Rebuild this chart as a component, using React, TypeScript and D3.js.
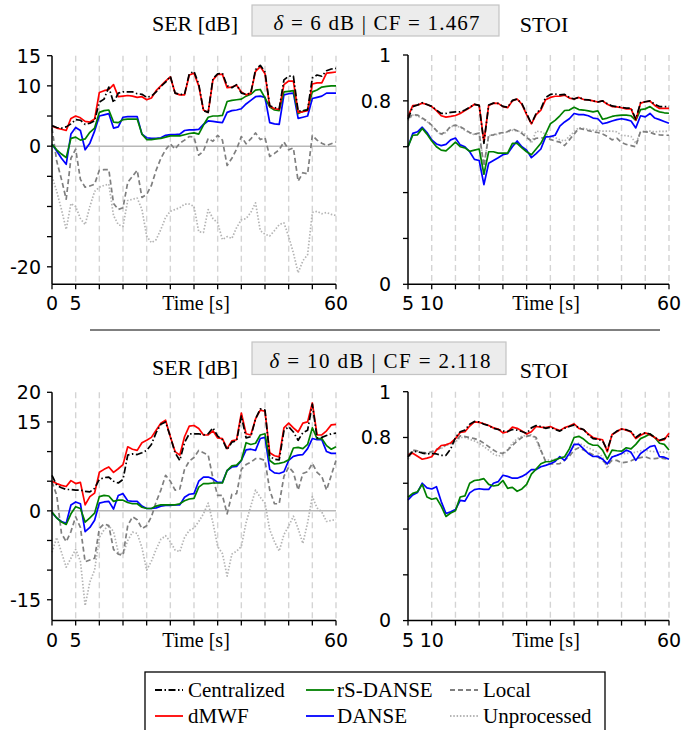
import React from "react";
import * as d3 from "d3";

// time grids (s)
const serTime = d3.range(0, 61);
const stoiTime = d3.range(5, 61);

// ---- delta = 6 dB, SER [dB] ----
const serTopCentralized = [3.4,3.1,3.0,3.2,3.7,4.4,4.3,3.6,3.8,4.2, 7.3,7.8,9.8,7.2,8.8,9.0,9.0,9.0,8.7,8.6, 8.1,8.3,9.0,9.9,10.6,11.6,8.8,8.6,8.6,12.0, 12.4,10.3,5.9,5.6,11.2,12.0,12.1,10.0,9.7,10.2, 8.8,8.6,8.8,12.7,13.4,12.3,6.7,6.4,6.2,11.0, 11.6,11.6,5.8,5.9,6.0,11.3,11.8,11.6,12.5,12.8, 12.9];
const serTopDmwf = [3.3,3.0,2.8,2.6,4.6,5.0,4.7,4.1,4.0,4.5, 8.9,9.2,9.4,10.2,8.2,8.3,8.4,8.3,8.1,8.2, 7.7,8.0,9.2,10.0,10.8,11.5,8.8,8.5,8.5,11.8, 12.1,10.0,6.0,5.6,11.0,11.9,11.9,9.7,9.8,10.1, 9.0,8.5,8.8,12.4,13.2,12.0,6.6,6.2,6.1,10.2, 10.8,10.8,5.6,5.7,5.9,10.3,10.5,10.5,12.1,12.2, 12.3];
const serTopRsDanse = [0.3,-0.6,-1.3,-1.9,1.3,1.5,1.0,1.2,2.3,3.0, 5.6,5.9,6.0,4.0,3.9,4.4,4.5,4.5,4.5,2.0, 1.1,1.1,1.2,1.3,1.5,1.7,1.7,1.7,1.9,2.1, 2.2,2.0,3.5,4.8,5.0,5.0,5.1,7.4,7.6,7.7, 7.8,8.3,8.6,9.3,9.4,8.0,6.5,6.0,5.9,9.0, 9.1,9.2,5.4,5.8,6.1,9.0,9.3,9.8,9.9,10.0, 10.0];
const serTopDanse = [0.3,-0.8,-2.0,-3.0,2.0,3.1,2.6,-0.6,0.5,2.5, 5.0,5.2,5.4,3.0,3.2,4.8,4.9,4.9,4.9,2.0, 1.4,1.3,1.3,1.4,1.8,1.9,1.9,2.0,2.6,2.7, 2.7,2.8,3.6,4.2,4.1,4.0,3.9,5.6,5.9,6.0, 6.2,7.0,7.6,8.2,8.3,8.1,3.9,3.7,3.6,8.5, 8.7,8.8,4.6,4.8,5.0,7.9,8.1,8.3,8.8,8.8, 8.8];
const serTopLocal = [3.0,-2.5,-5.5,-8.8,-2.0,-0.5,-5.5,-6.8,-6.6,-6.3, -4.0,-3.9,-3.9,-9.5,-10.5,-10.2,-6.0,-5.0,-4.0,-8.5, -8.0,-6.5,-4.0,-2.0,-0.6,0.4,-0.5,0.5,1.0,1.6, 1.5,-1.5,-0.8,1.3,0.8,1.8,1.0,-3.2,-2.0,-0.5, 1.6,0.4,1.2,2.2,1.1,1.4,-1.7,-1.2,-0.6,0.7, -0.6,-0.3,-5.8,-4.4,-4.6,1.8,1.0,0.5,0.1,0.4, 0.7];
const serTopUnprocessed = [-5.0,-7.5,-10.5,-13.8,-9.5,-10.0,-12.0,-13.0,-10.0,-7.5, -6.8,-6.5,-6.3,-11.5,-13.0,-13.3,-9.0,-8.8,-8.6,-10.5, -14.9,-16.0,-15.5,-13.8,-11.8,-10.8,-10.5,-10.2,-9.6,-9.6, -10.0,-14.2,-14.3,-10.5,-12.0,-12.7,-15.5,-15.0,-15.3,-13.5, -12.2,-12.0,-11.0,-9.4,-14.0,-14.6,-14.9,-14.0,-13.0,-12.7, -15.0,-17.7,-21.0,-19.0,-18.0,-11.0,-10.8,-11.2,-11.0,-11.3, -11.5];

// ---- delta = 6 dB, STOI ----
const stoiTopCentralized = [0.720,0.775,0.782,0.792,0.784,0.776,0.760,0.745,0.745,0.750, 0.752,0.752,0.760,0.772,0.785,0.780,0.615,0.782,0.790,0.789, 0.776,0.772,0.802,0.808,0.788,0.745,0.700,0.745,0.765,0.815, 0.828,0.830,0.826,0.828,0.815,0.808,0.816,0.806,0.804,0.800, 0.795,0.800,0.788,0.778,0.775,0.772,0.768,0.768,0.720,0.792, 0.796,0.800,0.785,0.775,0.775,0.775];
const stoiTopDmwf = [0.731,0.779,0.781,0.790,0.784,0.775,0.757,0.735,0.729,0.732, 0.736,0.745,0.758,0.770,0.785,0.780,0.622,0.780,0.790,0.789, 0.775,0.770,0.800,0.808,0.785,0.740,0.700,0.740,0.760,0.805, 0.815,0.820,0.820,0.825,0.812,0.808,0.815,0.806,0.804,0.800, 0.795,0.800,0.785,0.775,0.774,0.770,0.765,0.765,0.716,0.790, 0.796,0.799,0.780,0.767,0.767,0.767];
const stoiTopRsDanse = [0.600,0.650,0.652,0.680,0.655,0.625,0.600,0.585,0.582,0.600, 0.620,0.600,0.595,0.580,0.585,0.590,0.480,0.578,0.578,0.572, 0.572,0.572,0.615,0.615,0.595,0.578,0.565,0.590,0.615,0.655, 0.700,0.715,0.735,0.758,0.760,0.772,0.762,0.760,0.756,0.752, 0.756,0.720,0.725,0.732,0.736,0.738,0.738,0.735,0.715,0.762, 0.765,0.775,0.760,0.752,0.748,0.746];
const stoiTopDanse = [0.600,0.658,0.665,0.685,0.662,0.630,0.612,0.605,0.610,0.630, 0.638,0.608,0.600,0.578,0.545,0.540,0.435,0.528,0.540,0.552, 0.565,0.570,0.600,0.625,0.600,0.585,0.552,0.570,0.590,0.643, 0.644,0.650,0.690,0.708,0.722,0.745,0.740,0.740,0.735,0.725, 0.722,0.700,0.705,0.712,0.718,0.722,0.718,0.712,0.682,0.735, 0.730,0.745,0.725,0.718,0.710,0.702];
const stoiTopLocal = [0.724,0.740,0.738,0.725,0.712,0.694,0.670,0.655,0.665,0.690, 0.694,0.688,0.675,0.662,0.655,0.660,0.515,0.650,0.652,0.658, 0.662,0.666,0.678,0.670,0.658,0.640,0.625,0.637,0.638,0.640, 0.632,0.625,0.620,0.605,0.630,0.655,0.680,0.676,0.670,0.665, 0.662,0.655,0.645,0.630,0.637,0.618,0.610,0.605,0.600,0.667, 0.665,0.663,0.655,0.652,0.650,0.650];
const stoiTopUnprocessed = [0.715,0.738,0.735,0.722,0.710,0.692,0.668,0.652,0.662,0.688, 0.690,0.685,0.672,0.660,0.652,0.658,0.520,0.648,0.650,0.655, 0.660,0.664,0.672,0.668,0.665,0.650,0.615,0.668,0.665,0.655, 0.645,0.640,0.630,0.625,0.645,0.665,0.683,0.680,0.675,0.672, 0.670,0.668,0.668,0.668,0.665,0.650,0.648,0.645,0.615,0.665, 0.667,0.668,0.665,0.667,0.667,0.668];

// ---- delta = 10 dB, SER [dB] ----
const serBottomCentralized = [6.0,4.3,3.9,3.6,3.6,3.5,3.5,3.3,3.2,3.8, 5.3,5.6,5.7,5.0,4.7,5.3,9.4,9.6,9.5,9.8, 10.2,11.2,13.2,14.6,15.0,12.5,9.8,8.5,11.5,13.0, 13.0,13.0,12.8,13.0,14.0,12.6,12.0,10.3,11.6,11.8, 16.0,12.3,12.5,15.5,17.2,17.0,9.2,8.7,8.6,13.5, 14.2,13.3,11.9,13.2,13.6,18.0,12.3,12.4,12.7,13.0, 13.1];
const serBottomDmwf = [5.0,4.6,4.3,4.1,5.1,4.6,4.8,1.0,2.4,3.0, 6.5,7.0,7.4,6.5,7.1,7.8,10.8,10.4,10.2,11.5, 11.9,12.4,13.6,14.8,15.3,12.5,10.0,9.4,12.5,14.3, 14.4,13.9,12.8,12.8,13.5,12.3,12.2,10.5,11.8,12.0, 16.5,13.0,12.8,15.5,17.0,16.8,9.8,9.3,9.1,14.0, 14.8,14.0,13.3,14.8,15.0,18.2,12.8,12.8,13.5,14.5, 14.6];
const serBottomRsDanse = [-0.2,-1.2,-1.9,-2.3,-0.5,0.7,0.4,-1.9,-1.2,-0.4, 2.4,2.6,2.5,1.6,1.8,1.8,1.4,1.2,1.2,0.6, 0.4,0.4,0.8,1.0,1.0,1.0,1.0,1.2,1.7,2.0, 2.1,4.0,4.6,4.6,4.7,4.7,4.7,6.8,7.6,7.7, 8.5,11.5,11.2,11.4,12.8,13.0,8.5,7.9,8.0,8.2, 8.6,10.6,10.7,10.5,11.2,14.0,12.2,12.2,11.0,10.4, 10.8];
const serBottomDanse = [-0.3,-1.2,-1.8,-2.1,1.0,1.5,1.2,-3.5,-2.8,-1.6, 1.3,1.5,1.6,0.3,2.6,2.9,1.7,1.6,1.6,0.8, 0.4,0.4,0.5,0.8,0.9,0.9,1.0,1.0,2.3,2.8, 2.9,5.0,5.7,5.7,5.4,4.8,4.8,6.8,7.4,7.5, 8.5,10.3,10.4,10.2,12.2,12.4,7.0,6.4,6.3,6.6, 8.5,9.2,9.4,9.5,10.5,12.2,12.0,12.0,10.0,9.7, 9.7];
const serBottomLocal = [4.9,2.6,-3.8,-5.2,-3.5,-1.0,-2.8,-8.6,-8.3,-8.0, -3.0,-2.2,-2.5,-6.5,-7.3,-7.5,-2.5,-1.0,-1.5,-3.0, -2.5,-1.0,1.5,3.5,6.0,5.0,3.5,3.7,7.0,8.4, 9.0,10.2,9.8,9.4,5.5,2.6,2.6,-0.5,2.8,2.9, 7.0,7.8,8.2,8.8,8.8,8.5,3.5,1.2,1.2,5.8, 7.4,6.5,3.5,6.3,6.6,8.0,6.5,5.8,3.5,6.0, 8.5];
const serBottomUnprocessed = [-7.0,-4.5,-7.0,-9.5,-8.0,-6.5,-8.5,-16.0,-12.0,-10.0, -4.5,-3.2,-2.5,-3.5,-7.0,-7.3,-5.0,-3.6,-3.8,-6.2, -10.0,-8.5,-6.5,-4.8,-4.2,-5.2,-6.6,-6.9,-4.5,-3.3, -2.9,-1.8,-0.5,1.3,-2.0,-6.0,-7.2,-11.0,-7.3,-6.8, -6.0,-2.0,0.8,3.5,2.3,1.3,-3.2,-5.2,-6.8,-4.0, -2.6,-0.9,-3.0,-5.5,-2.0,2.4,0.5,-0.2,-1.8,-1.6, -1.5];

// ---- delta = 10 dB, STOI ----
const stoiBottomCentralized = [0.715,0.740,0.738,0.732,0.728,0.730,0.728,0.722,0.722,0.750, 0.800,0.825,0.832,0.858,0.870,0.868,0.858,0.852,0.840,0.835, 0.828,0.826,0.835,0.832,0.826,0.818,0.842,0.852,0.848,0.840, 0.845,0.835,0.828,0.840,0.848,0.855,0.842,0.835,0.812,0.795, 0.792,0.785,0.745,0.812,0.828,0.836,0.834,0.826,0.800,0.815, 0.820,0.815,0.800,0.788,0.795,0.805];
const stoiBottomDmwf = [0.724,0.731,0.718,0.705,0.710,0.716,0.745,0.765,0.768,0.776, 0.795,0.822,0.825,0.850,0.868,0.866,0.860,0.852,0.842,0.837, 0.820,0.825,0.845,0.840,0.828,0.815,0.825,0.848,0.845,0.843, 0.848,0.838,0.830,0.843,0.850,0.860,0.840,0.834,0.815,0.800, 0.794,0.790,0.738,0.813,0.825,0.838,0.832,0.824,0.795,0.810, 0.820,0.812,0.800,0.786,0.790,0.818];
const stoiBottomRsDanse = [0.539,0.556,0.563,0.595,0.540,0.530,0.535,0.500,0.455,0.470, 0.480,0.540,0.545,0.600,0.612,0.615,0.620,0.595,0.588,0.592, 0.612,0.578,0.582,0.565,0.575,0.595,0.640,0.662,0.685,0.694, 0.695,0.702,0.710,0.716,0.750,0.800,0.805,0.793,0.775,0.766, 0.766,0.745,0.705,0.745,0.742,0.740,0.755,0.750,0.770,0.795, 0.804,0.815,0.800,0.775,0.770,0.745];
const stoiBottomDanse = [0.527,0.549,0.560,0.600,0.580,0.575,0.585,0.520,0.468,0.475, 0.485,0.525,0.522,0.558,0.572,0.576,0.573,0.573,0.600,0.607, 0.635,0.630,0.622,0.622,0.630,0.642,0.660,0.660,0.672,0.678, 0.685,0.695,0.716,0.700,0.730,0.770,0.770,0.750,0.730,0.717, 0.718,0.705,0.685,0.715,0.722,0.730,0.745,0.735,0.700,0.730, 0.745,0.760,0.765,0.716,0.714,0.705];
const stoiBottomLocal = [0.720,0.745,0.742,0.735,0.732,0.738,0.748,0.756,0.768,0.774, 0.785,0.807,0.804,0.800,0.795,0.788,0.775,0.760,0.745,0.733, 0.731,0.745,0.765,0.785,0.800,0.805,0.810,0.800,0.745,0.695, 0.685,0.684,0.686,0.700,0.718,0.745,0.755,0.745,0.735,0.725, 0.715,0.700,0.680,0.700,0.700,0.690,0.692,0.698,0.708,0.712, 0.716,0.708,0.708,0.710,0.708,0.705];
const stoiBottomUnprocessed = [0.705,0.742,0.740,0.732,0.730,0.735,0.745,0.752,0.765,0.772, 0.780,0.800,0.800,0.792,0.785,0.775,0.760,0.745,0.728,0.718, 0.725,0.745,0.775,0.795,0.805,0.810,0.812,0.790,0.740,0.700, 0.702,0.705,0.708,0.715,0.730,0.765,0.775,0.765,0.755,0.745, 0.735,0.715,0.665,0.715,0.722,0.728,0.730,0.732,0.735,0.742, 0.745,0.740,0.738,0.737,0.735,0.735];

const timeTicks = d3.range(0, 61, 5);
const serTopTicks = [-20, -15, -10, -5, 0, 5, 10, 15];
const serTopLabels = [15, 10, 0, -20];
const serBottomTicks = [-15, -10, -5, 0, 5, 10, 15, 20];
const serBottomLabels = [20, 15, 0, -15];
const stoiTicks = [0, 0.2, 0.4, 0.6, 0.8, 1];
const stoiLabels = [1, 0.8, 0];

const styles = {
  Centralized: { color: "#000000", dash: "7 2.5 1.5 2.5" },
  dMWF: { color: "#ff0000", dash: null },
  "rS-DANSE": { color: "#008000", dash: null },
  DANSE: { color: "#0000ff", dash: null },
  Local: { color: "#7f7f7f", dash: "5 3" },
  Unprocessed: { color: "#b4b4b4", dash: "1.5 1.8" },
};
// back-to-front
const drawOrder = ["Unprocessed", "Local", "DANSE", "rS-DANSE", "dMWF", "Centralized"];

const SERIF = "'Liberation Serif', 'Times New Roman', serif";
const SANS = "'DejaVu Sans', sans-serif";

function Panel(props: any) {
  const { left, right, top, bottom, xDomain, yDomain, yTicks, yLabels, xLabels,
    times, data, zero, title, titleX, titleY, labelRight, timeX } = props;
  const x = d3.scaleLinear().domain(xDomain).range([left, right]);
  const y = d3.scaleLinear().domain(yDomain).range([bottom, top]);
  const line = d3.line<number>().x((_, i) => x(times[i])).y(d => y(d));
  const grid = timeTicks.filter(t => t > xDomain[0]);
  const xt = timeTicks.filter(t => t >= xDomain[0]);
  const fmt = (v: number) => (v < 0 ? "-" + Math.abs(v) : String(v));

  return (
    <g>
      {grid.map(t => (
        <line key={"g" + t} x1={x(t)} x2={x(t)} y1={top} y2={bottom}
          stroke="#d4d4d4" strokeWidth={1.4} strokeDasharray="6 4" />
      ))}
      {zero && <line x1={left} x2={right} y1={y(0)} y2={y(0)} stroke="#b8b8b8" strokeWidth={1.5} />}
      {drawOrder.map(name => (
        <path key={name} d={line(data[name]) || ""} fill="none"
          stroke={styles[name].color} strokeWidth={1.7}
          strokeDasharray={styles[name].dash || undefined} strokeLinejoin="round" />
      ))}
      <line x1={left} x2={left} y1={top} y2={bottom} stroke="#000" strokeWidth={1.5} />
      <line x1={left} x2={right} y1={bottom} y2={bottom} stroke="#000" strokeWidth={1.5} />
      {yTicks.map(v => (
        <line key={"yt" + v} x1={left - 5} x2={left} y1={y(v)} y2={y(v)} stroke="#000" strokeWidth={1.3} />
      ))}
      {yLabels.map(v => (
        <text key={"yl" + v} x={labelRight} y={y(v)} dy="0.36em" textAnchor="end"
          fontFamily={SANS} fontSize={19}>{fmt(v)}</text>
      ))}
      {xt.map(t => (
        <line key={"xt" + t} x1={x(t)} x2={x(t)} y1={bottom} y2={bottom + 5} stroke="#000" strokeWidth={1.3} />
      ))}
      {xLabels.map(t => (
        <text key={"xl" + t} x={x(t)} y={bottom + 26} textAnchor="middle"
          fontFamily={SANS} fontSize={19}>{t}</text>
      ))}
      <text x={timeX} y={bottom + 26} textAnchor="middle" fontFamily={SERIF} fontSize={20}>Time [s]</text>
      <text x={titleX} y={titleY} textAnchor="middle" fontFamily={SERIF} fontSize={22}>{title}</text>
    </g>
  );
}

function InfoBox({ x, y, w, h, delta, cf, span }: any) {
  return (
    <g>
      <rect x={x} y={y} width={w} height={h} fill="#ececec" stroke="#c4c4c4" strokeWidth={1.2} />
      <text x={x + w / 2 + 1} y={y + h - 6.5} textAnchor="middle" fontFamily={SERIF} fontSize={21}
        textLength={span} lengthAdjust="spacing">
        <tspan fontStyle="italic">δ</tspan> = {delta} dB | CF = {cf}
      </text>
    </g>
  );
}

function Legend() {
  const cols = [
    { lx: 155, tx: 188, items: ["Centralized", "dMWF"] },
    { lx: 306, tx: 337, items: ["rS-DANSE", "DANSE"] },
    { lx: 450, tx: 483, items: ["Local", "Unprocessed"] },
  ];
  const rows = [690, 716];
  return (
    <g>
      <rect x={145} y={672} width={460} height={72} fill="#fff" stroke="#000" strokeWidth={1.3} />
      {cols.map(c => c.items.map((name, r) => (
        <g key={name}>
          <line x1={c.lx} x2={c.lx + 28} y1={rows[r]} y2={rows[r]} stroke={styles[name].color}
            strokeWidth={1.8} strokeDasharray={styles[name].dash || undefined} />
          <text x={c.tx} y={rows[r]} dy="0.33em" fontFamily={SERIF} fontSize={21}>{name}</text>
        </g>
      )))}
    </g>
  );
}

export default function App() {
  const serTop = { Centralized: serTopCentralized, dMWF: serTopDmwf, "rS-DANSE": serTopRsDanse, DANSE: serTopDanse, Local: serTopLocal, Unprocessed: serTopUnprocessed };
  const stoiTop = { Centralized: stoiTopCentralized, dMWF: stoiTopDmwf, "rS-DANSE": stoiTopRsDanse, DANSE: stoiTopDanse, Local: stoiTopLocal, Unprocessed: stoiTopUnprocessed };
  const serBottom = { Centralized: serBottomCentralized, dMWF: serBottomDmwf, "rS-DANSE": serBottomRsDanse, DANSE: serBottomDanse, Local: serBottomLocal, Unprocessed: serBottomUnprocessed };
  const stoiBottom = { Centralized: stoiBottomCentralized, dMWF: stoiBottomDmwf, "rS-DANSE": stoiBottomRsDanse, DANSE: stoiBottomDanse, Local: stoiBottomLocal, Unprocessed: stoiBottomUnprocessed };

  return (
    <svg width={694} height={730} style={{ position: "absolute", left: 0, top: 0, background: "#fff" }}>
      <rect width={694} height={730} fill="#fff" />
      <Panel left={52} right={336} top={55.7} bottom={284.3} xDomain={[0, 60]} yDomain={[-22.9, 15]}
        yTicks={serTopTicks} yLabels={serTopLabels} xLabels={[0, 5, 60]} times={serTime} data={serTop}
        zero title="SER [dB]" titleX={195} titleY={31} labelRight={41} timeX={196} />
      <Panel left={408} right={669} top={55} bottom={284.3} xDomain={[5, 60]} yDomain={[0, 1]}
        yTicks={stoiTicks} yLabels={stoiLabels} xLabels={[5, 10, 60]} times={stoiTime} data={stoiTop}
        zero={false} title="STOI" titleX={544} titleY={32} labelRight={391} timeX={546} />
      <InfoBox x={252} y={5} w={247} h={31} delta={6} cf="1.467" span={206} />

      <line x1={90} x2={660} y1={330} y2={330} stroke="#000" strokeWidth={1} />

      <Panel left={52} right={336} top={392.3} bottom={620.5} xDomain={[0, 60]} yDomain={[-18.5, 20]}
        yTicks={serBottomTicks} yLabels={serBottomLabels} xLabels={[0, 5, 60]} times={serTime} data={serBottom}
        zero title="SER [dB]" titleX={195} titleY={375} labelRight={41} timeX={196} />
      <Panel left={408} right={669} top={391.7} bottom={620.6} xDomain={[5, 60]} yDomain={[0, 1]}
        yTicks={stoiTicks} yLabels={stoiLabels} xLabels={[5, 10, 60]} times={stoiTime} data={stoiBottom}
        zero={false} title="STOI" titleX={544} titleY={378} labelRight={391} timeX={546} />
      <InfoBox x={252} y={342} w={254} h={32.5} delta={10} cf="2.118" span={221} />

      <Legend />
    </svg>
  );
}
